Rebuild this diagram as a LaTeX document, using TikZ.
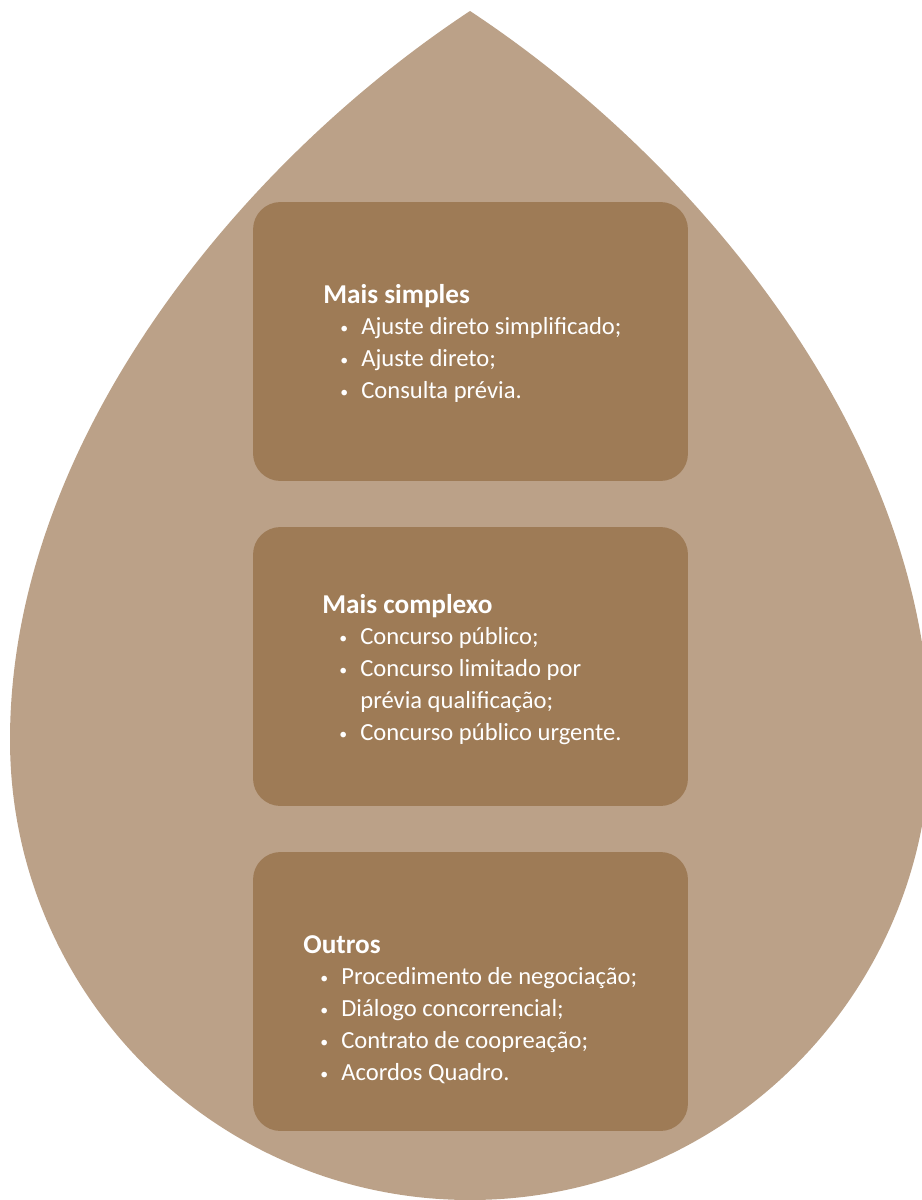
\documentclass[tikz,border=0pt]{standalone}
\usepackage{fontspec}
\setmainfont{Carlito}
\definecolor{dropbeige}{RGB}{187, 161, 136}
\definecolor{boxbrown}{RGB}{158, 123, 86}
\usepackage{tikz}
\tikzstyle{stagebox} = [fill=boxbrown, rounded corners=0.55cm, inner sep=0pt,
                        minimum width=8.7cm, minimum height=5.58cm]
\tikzstyle{stagetext} = [text=white, anchor=base west, inner sep=0pt,
                         font=\fontsize{14}{18.2}\selectfont]
% heading plus bullet lines, second column wraps under the text
\newcommand{\stagelist}[2]{%
  \begin{tabular}[t]{@{\hspace{0.34cm}}p{0.42cm}@{}l@{}}
    \multicolumn{2}{@{}l@{}}{\fontsize{15.5}{18.2}\selectfont\textbf{#1}}\\
    #2
  \end{tabular}}
\newcommand{\bul}{\raisebox{0.9pt}{\fontsize{9}{9}\selectfont\textbullet} &}

\begin{document}
\begin{tikzpicture}[x=0.02cm, y=-0.02cm]
    \useasboundingbox (0, 0) rectangle (922, 1200);
    \clip (0, 0) rectangle (922, 1200);
    % the drop
    \fill[dropbeige] (470, 11) .. controls (242.5, 161) and (10, 440) .. (10, 740)
        .. controls (10, 994) and (216, 1200) .. (470, 1200)
        .. controls (724, 1200) and (930, 994) .. (930, 740)
        .. controls (930, 440) and (697.5, 161) .. (470, 11) -- cycle;
    % three boxes
    \node[stagebox] (simples) at (470.5, 341.5) {};
    \node[stagebox] (complexo) at (470.5, 666.5) {};
    \node[stagebox] (outros) at (470.5, 991.5) {};
    \node[stagetext] (simplestxt) at (323, 303) {\stagelist{Mais simples}{%
        \bul Ajuste direto simplificado;\\
        \bul Ajuste direto;\\
        \bul Consulta prévia.}};
    \node[stagetext] (complexotxt) at (322, 613) {\stagelist{Mais complexo}{%
        \bul Concurso público;\\
        \bul Concurso limitado por\\
        & prévia qualificação;\\
        \bul Concurso público urgente.}};
    \node[stagetext] (outrostxt) at (303, 953) {\stagelist{Outros}{%
        \bul Procedimento de negociação;\\
        \bul Diálogo concorrencial;\\
        \bul Contrato de coopreação;\\
        \bul Acordos Quadro.}};
\end{tikzpicture}
\end{document}
